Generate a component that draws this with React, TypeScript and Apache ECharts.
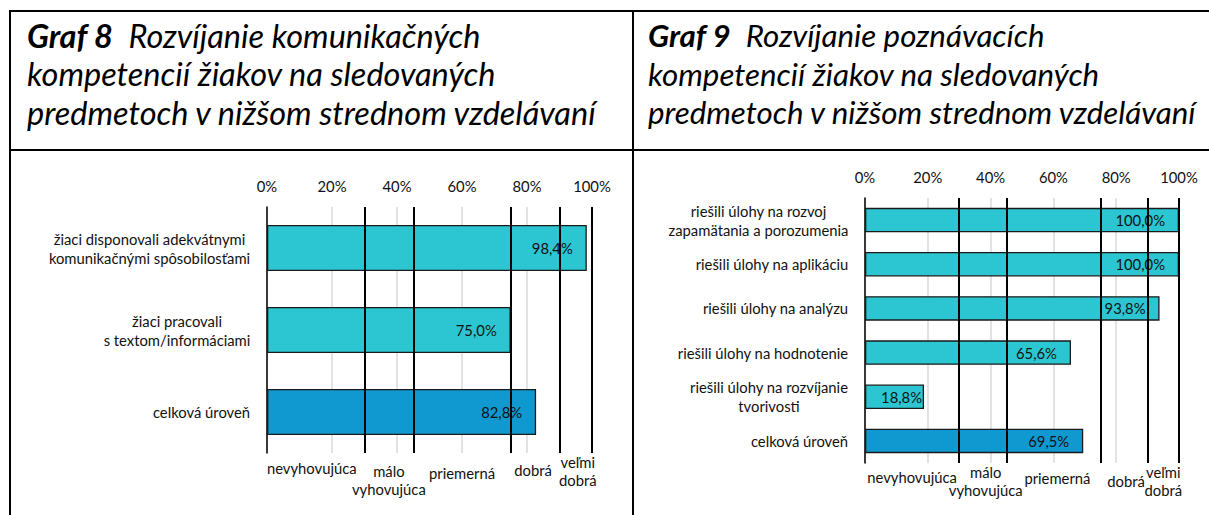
import React, { useEffect, useRef } from "react";
import * as echarts from "echarts";

// ---- data ----
const CATEGORIES_8 = [
  "žiaci disponovali adekvátnymi\nkomunikačnými spôsobilosťami",
  "žiaci pracovali\ns textom/informáciami",
  "celková úroveň",
];
const VALUES_8 = [98.4, 75.0, 82.8];

const CATEGORIES_9 = [
  "riešili úlohy na rozvoj\nzapamätania a porozumenia",
  "riešili úlohy na aplikáciu",
  "riešili úlohy na analýzu",
  "riešili úlohy na hodnotenie",
  "riešili úlohy na rozvíjanie\ntvorivosti",
  "celková úroveň",
];
const VALUES_9 = [100.0, 100.0, 93.8, 65.6, 18.8, 69.5];

const THRESHOLDS = [30, 45, 75, 90, 100];
const GRADE_LABELS = ["nevyhovujúca", "málo\nvyhovujúca", "priemerná", "dobrá", "veľmi\ndobrá"];
const GRADE_CENTERS = [15, 37.5, 60, 82.5, 95];

const TITLE_8 = ["Graf 8", "Rozvíjanie komunikačných", "kompetencií žiakov na sledovaných", "predmetoch v nižšom strednom vzdelávaní"];
const TITLE_9 = ["Graf 9", "Rozvíjanie poznávacích", "kompetencií žiakov na sledovaných", "predmetoch v nižšom strednom vzdelávaní"];

const TOTAL_CATEGORY = "celková úroveň";

// ---- style ----
const FONT = "Lato, 'Open Sans', sans-serif";
const LIGHT = "#2CC6D2";
const DARK = "#0F99D0";
const TEXT = "#111";

const GRIDS = [
  { left: 267, top: 207, width: 325, height: 246, barWidth: 46 },
  { left: 865, top: 198, width: 314, height: 265, barWidth: 24.5 },
];
// offsets (dx px, dy px from grid bottom to top of text) for grade labels
const GRADE_OFFSETS = [
  [[-4, 6], [0, 9], [0, 11], [-2, 8], [2, 0]],
  [[0, 5], [3, 0], [4, 6], [2, 9], [0, 0]],
];
const TITLE_LAYOUT = [
  { x: 27, size: 32.5 },
  { x: 648, size: 31.3 },
];

function measure(text: string, size: number) {
  const c = document.createElement("canvas").getContext("2d");
  if (!c) return text.length * size * 0.5;
  c.font = `${size}px Lato`;
  return c.measureText(text).width;
}

function fmtPct(v: number) {
  return v.toFixed(1).replace(".", ",") + "%";
}

function buildRich(cats: string[], size: number) {
  const rich: any = {};
  cats.forEach((c, i) => {
    const lines = c.split("\n");
    const w = Math.ceil(Math.max(...lines.map((l) => measure(l, size)))) + 1;
    rich["c" + i] = { width: w, align: "center", fontSize: size, fontFamily: FONT, color: TEXT, lineHeight: 19 };
  });
  return rich;
}

export default function App() {
  const ref = useRef<HTMLDivElement>(null);
  useEffect(() => {
    document.body.style.margin = "0";
    if (!ref.current) return;
    const chart = echarts.init(ref.current, null, { renderer: "svg" });
    const LABEL_SIZE = 14.8;

    const sets = [
      { cats: CATEGORIES_8, vals: VALUES_8 },
      { cats: CATEGORIES_9, vals: VALUES_9 },
    ];

    const option: any = {
      animation: false,
      grid: GRIDS.map((g) => ({ left: g.left, top: g.top, width: g.width, height: g.height, containLabel: false })),
      xAxis: GRIDS.map((g, i) => ({
        type: "value",
        gridIndex: i,
        position: "top",
        min: 0,
        max: 100,
        interval: 20,
        axisLine: { show: false },
        axisTick: { show: false },
        axisLabel: { formatter: "{value}%", color: TEXT, fontFamily: FONT, fontSize: LABEL_SIZE, margin: 14 },
        splitLine: { show: true, lineStyle: { color: "#d9d9d9", width: 1.5 } },
      })),
      yAxis: sets.map((s, i) => {
        const rich = buildRich(s.cats, LABEL_SIZE);
        return {
          type: "category",
          gridIndex: i,
          inverse: true,
          data: s.cats,
          axisLine: { show: true, lineStyle: { color: "#000", width: 1.5 } },
          axisTick: { show: false },
          axisLabel: {
            margin: 16,
            color: TEXT,
            fontFamily: FONT,
            fontSize: LABEL_SIZE,
            lineHeight: 19,
            rich,
            formatter: (v: string, idx: number) =>
              v
                .split("\n")
                .map((l) => `{c${idx}|${l}}`)
                .join("\n"),
          },
        };
      }),
      series: sets.map((s, i) => ({
        type: "bar",
        xAxisIndex: i,
        yAxisIndex: i,
        barWidth: GRIDS[i].barWidth,
        data: s.vals.map((v, j) => ({
          value: v,
          itemStyle: { color: s.cats[j] === TOTAL_CATEGORY ? DARK : LIGHT },
          label: { distance: v < 30 ? 2 : 14 },
        })),
        itemStyle: { borderColor: "#1a1a1a", borderWidth: 1.3 },
        label: {
          show: true,
          position: "insideRight",
          formatter: (p: any) => fmtPct(p.value),
          color: TEXT,
          fontFamily: FONT,
          fontSize: LABEL_SIZE,
        },
        markLine: {
          silent: true,
          symbol: "none",
          label: { show: false },
          lineStyle: { color: "#000", width: 2, type: "solid" },
          data: THRESHOLDS.map((t) => ({ xAxis: t })),
        },
      })),
    };
    chart.setOption(option);

    const graphics: any[] = [];
    // frame
    const frame = { stroke: "#000", lineWidth: 2 };
    graphics.push({ type: "line", shape: { x1: 9, y1: 11, x2: 1209, y2: 11 }, style: frame });
    graphics.push({ type: "line", shape: { x1: 10, y1: 10, x2: 10, y2: 515 }, style: frame });
    graphics.push({ type: "line", shape: { x1: 633, y1: 10, x2: 633, y2: 515 }, style: frame });
    graphics.push({ type: "line", shape: { x1: 9, y1: 150, x2: 1209, y2: 150 }, style: frame });

    // titles
    const NB = "\u00a0\u00a0";
    [TITLE_8, TITLE_9].forEach((t, i) => {
      const { x, size } = TITLE_LAYOUT[i];
      const lines = [`{b|${t[0]}}{i|${NB}${t[1]}}`, `{i|${t[2]}}`, `{i|${t[3]}}`];
      lines.forEach((l, k) => {
        graphics.push({
          type: "text",
          x,
          y: 35 + k * 38.5,
          style: {
            text: l,
            verticalAlign: "middle",
            align: "left",
            rich: {
              b: { fontFamily: FONT, fontSize: size, fontWeight: "bold", fontStyle: "italic", fill: "#000" },
              i: { fontFamily: FONT, fontSize: size, fontStyle: "italic", fill: "#000" },
            },
          },
        });
      });
    });

    // grade labels below each chart
    GRIDS.forEach((g, gi) => {
      GRADE_LABELS.forEach((lab, k) => {
        const px = chart.convertToPixel({ xAxisIndex: gi }, GRADE_CENTERS[k]) as number;
        const off = GRADE_OFFSETS[gi][k];
        graphics.push({
          type: "text",
          x: px + off[0],
          y: g.top + g.height + off[1],
          style: {
            text: lab,
            align: "center",
            verticalAlign: "top",
            fontFamily: FONT,
            fontSize: LABEL_SIZE,
            lineHeight: 18,
            fill: TEXT,
          },
        });
      });
    });

    chart.setOption({ graphic: graphics });
    return () => chart.dispose();
  }, []);
  return <div ref={ref} style={{ width: 1209, height: 515 }} />;
}
